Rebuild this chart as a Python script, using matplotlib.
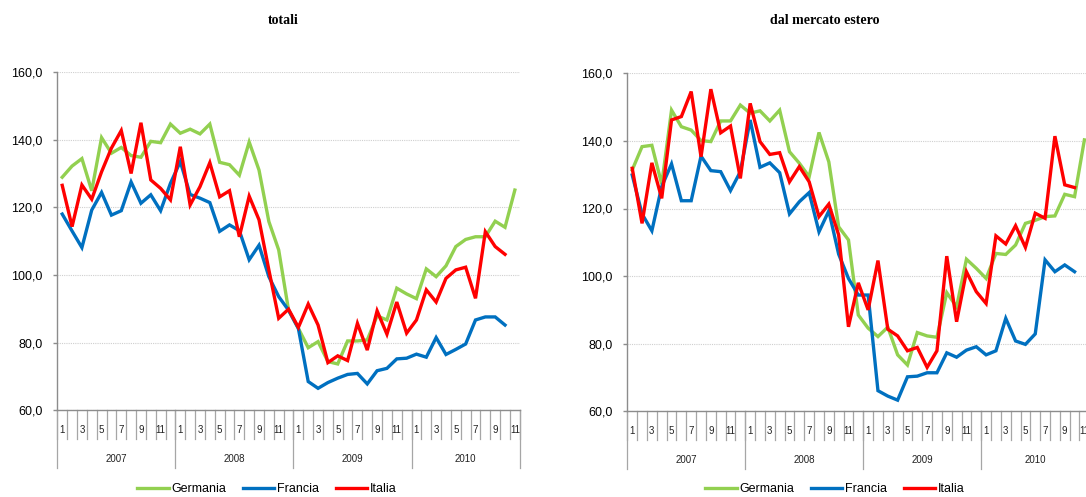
import matplotlib
matplotlib.use("Agg")
import matplotlib.pyplot as plt
from matplotlib.lines import Line2D
import numpy as np

# ---------------- data ----------------
years = ["2007", "2008", "2009", "2010"]
months_per_year = [12, 12, 12, 11]
month_labels = ["1", "3", "5", "7", "9", "11"]

series_names = ["Germania", "Francia", "Italia"]
series_colors = ["#92D050", "#0070C0", "#FF0000"]

tot_germania = [128.9, 132.2, 134.4, 124.9, 140.6, 136.0, 137.7, 135.3, 134.8, 139.5, 139.1, 144.6,
                141.9, 143.1, 141.7, 144.6, 133.3, 132.6, 129.5, 139.3, 131.0, 115.8, 107.4, 89.6,
                84.2, 78.5, 80.3, 74.4, 73.7, 80.5, 80.5, 80.8, 87.9, 86.7, 96.1, 94.4,
                93.0, 101.8, 99.5, 102.7, 108.4, 110.5, 111.3, 111.3, 115.9, 114.1, 125.1]
tot_francia = [118.0, 113.0, 108.1, 119.2, 124.4, 117.7, 119.0, 127.5, 121.2, 123.7, 119.0, 127.1,
               133.5, 123.8, 122.7, 121.4, 112.9, 114.8, 113.1, 104.5, 108.8, 99.5, 93.6, 89.6,
               84.2, 68.5, 66.5, 68.2, 69.5, 70.6, 70.9, 67.8, 71.7, 72.4, 75.2, 75.4,
               76.6, 75.7, 81.5, 76.5, 78.0, 79.6, 86.7, 87.6, 87.6, 85.2]
tot_italia = [126.5, 114.3, 126.6, 122.4, 130.5, 137.5, 142.7, 130.0, 145.0, 128.1, 125.6, 122.2,
              137.9, 120.7, 126.1, 133.2, 123.1, 124.9, 111.3, 123.3, 116.3, 101.5, 87.2, 89.9,
              84.5, 91.4, 85.2, 74.1, 76.1, 74.7, 85.7, 77.8, 89.4, 82.5, 92.0, 82.8,
              86.7, 95.6, 92.0, 99.0, 101.5, 102.3, 93.1, 112.8, 108.4, 106.1]

est_germania = [131.4, 138.3, 138.7, 127.2, 149.1, 144.2, 143.2, 140.1, 139.8, 145.9, 145.9, 150.6,
                148.2, 148.9, 145.9, 149.1, 136.8, 133.4, 129.4, 142.5, 133.8, 114.6, 110.7, 88.5,
                84.6, 82.1, 84.9, 76.7, 73.7, 83.3, 82.3, 81.9, 95.1, 90.9, 105.0, 102.3,
                99.3, 106.7, 106.4, 109.2, 115.6, 116.5, 117.6, 117.8, 124.2, 123.5, 140.3]
est_francia = [129.9, 118.4, 113.4, 126.5, 133.2, 122.3, 122.3, 135.5, 131.2, 130.9, 125.3, 130.9,
               146.2, 132.2, 133.5, 130.6, 118.4, 122.0, 124.7, 113.1, 119.3, 106.5, 99.3, 94.4,
               94.4, 66.1, 64.5, 63.3, 70.2, 70.4, 71.4, 71.4, 77.3, 76.0, 78.1, 79.1,
               76.7, 77.9, 87.5, 80.8, 79.8, 82.9, 104.8, 101.3, 103.3, 101.3]
est_italia = [131.9, 115.6, 133.5, 123.0, 146.2, 147.2, 154.6, 135.3, 155.3, 142.4, 144.4, 128.9,
              151.1, 139.8, 136.0, 136.5, 127.9, 132.4, 127.9, 117.6, 121.3, 112.2, 85.0, 98.0,
              90.0, 104.6, 84.3, 82.3, 77.9, 78.9, 73.0, 77.9, 105.9, 86.5, 101.3, 95.4,
              91.9, 111.9, 109.5, 114.9, 108.5, 118.6, 117.1, 141.4, 127.0, 126.2]

yticks = [60, 80, 100, 120, 140, 160]

# ---------------- figure ----------------
W, H = 1086, 497
fig = plt.figure(figsize=(W / 100, H / 100), dpi=100)
plt.rcParams["font.family"] = ["Liberation Sans", "DejaVu Sans"]


def px_axes(x0, x1, ytop, ybot):
    return fig.add_axes([x0 / W, (H - ybot) / H, (x1 - x0) / W, (ybot - ytop) / H])


def draw_panel(ax, data, plot_h_px):
    n_total = sum(months_per_year)
    for vals, name, col in zip(data, series_names, series_colors):
        ax.plot(np.arange(len(vals)), vals, color=col, lw=2.4, label=name,
                solid_joinstyle="miter", zorder=3)
    ax.set_xlim(-0.5, n_total - 0.5)
    ax.set_ylim(yticks[0], yticks[-1])
    ax.set_yticks(yticks)
    ax.set_yticklabels([f"{v:.1f}".replace(".", ",") for v in yticks], fontsize=9)
    ax.yaxis.grid(True, color="#CFCFCF", linestyle=(0, (1, 1)), linewidth=0.8, zorder=0)
    ax.set_axisbelow(True)
    for s in ["top", "right"]:
        ax.spines[s].set_visible(False)
    for s in ["left", "bottom"]:
        ax.spines[s].set_color("#8C8C8C")
        ax.spines[s].set_linewidth(1.0)
    ax.tick_params(axis="y", direction="out", length=3, width=1, color="#8C8C8C", pad=7.5)
    ax.set_xticks([])

    trans = ax.get_xaxis_transform()
    m_len = 29 / plot_h_px
    y_len = 58 / plot_h_px
    # month separators
    for k in range(n_total + 1):
        ax.plot([k - 0.5, k - 0.5], [0, -m_len], transform=trans, color="#A6A6A6",
                lw=0.9, clip_on=False)
    # year separators and labels
    start = 0
    for yr, nm in zip(years, months_per_year):
        ax.plot([start - 0.5, start - 0.5], [0, -y_len], transform=trans, color="#A6A6A6",
                lw=0.9, clip_on=False)
        for lab in month_labels:
            m = int(lab)
            if m <= nm:
                ax.text(start + m - 1, -20 / plot_h_px, lab, transform=trans, ha="center",
                        va="center", fontsize=7, color="#222222", clip_on=False)
        ax.text(start + (nm - 1) / 2, -49 / plot_h_px, yr, transform=trans, ha="center",
                va="center", fontsize=7, color="#222222", clip_on=False)
        start += nm
    ax.plot([start - 0.5, start - 0.5], [0, -y_len], transform=trans, color="#A6A6A6",
            lw=0.9, clip_on=False)


ax1 = px_axes(57.3, 57.3 + 9.84 * 47, 72.0, 410.3)
draw_panel(ax1, [tot_germania, tot_francia, tot_italia], 410.3 - 72.0)

ax2 = px_axes(627.3, 627.3 + 9.83 * 47, 73.3, 411.3)
draw_panel(ax2, [est_germania, est_francia, est_italia], 411.3 - 73.3)

fig.text(283 / W, (H - 21) / H, "totali", ha="center", va="center", fontsize=10,
         fontweight="bold", family="Liberation Serif")
fig.text(770 / W, (H - 21) / H, "dal mercato estero", ha="left", va="center", fontsize=10,
         fontweight="bold", family="Liberation Serif")

handles = [Line2D([], [], color=c, lw=2.4) for c in series_colors]
for cx in (267, 835):
    fig.legend(handles, series_names, loc="center", bbox_to_anchor=(cx / W, (H - 489) / H),
               ncol=3, frameon=False, fontsize=9, handlelength=2.5, handletextpad=0.25,
               columnspacing=1.3, borderaxespad=0, borderpad=0)

fig.savefig("out.png", dpi=100)
